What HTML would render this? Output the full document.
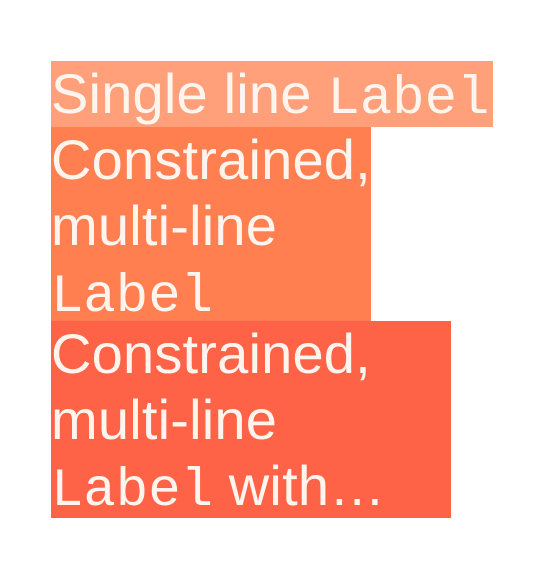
<!DOCTYPE html>
<html><head><meta charset="utf-8"><style>
html,body{margin:0;padding:0;background:#fff;width:546px;height:578px;overflow:hidden}
.b{position:absolute;left:51px;color:#FFF5EE;font-family:"Liberation Sans",Arial,sans-serif;font-size:56px;line-height:66px;white-space:nowrap;letter-spacing:0.2px}
.b div{height:66px;line-height:66px;}
.m{font-family:"Liberation Mono",monospace;font-size:54px;letter-spacing:0}
</style></head><body>
<div class="b" style="top:61px;width:442px;height:66px;background:#FFA07A"><div>Single line <span class="m">Label</span></div></div>
<div class="b" style="top:127px;width:320px;height:194px;background:#FF7F50"><div>Constrained,</div><div>multi-line</div><div><span class="m">Label</span></div></div>
<div class="b" style="top:321px;width:400px;height:197px;background:#FF6347"><div>Constrained,</div><div>multi-line</div><div><span class="m">Label</span> with…</div></div>
</body></html>
